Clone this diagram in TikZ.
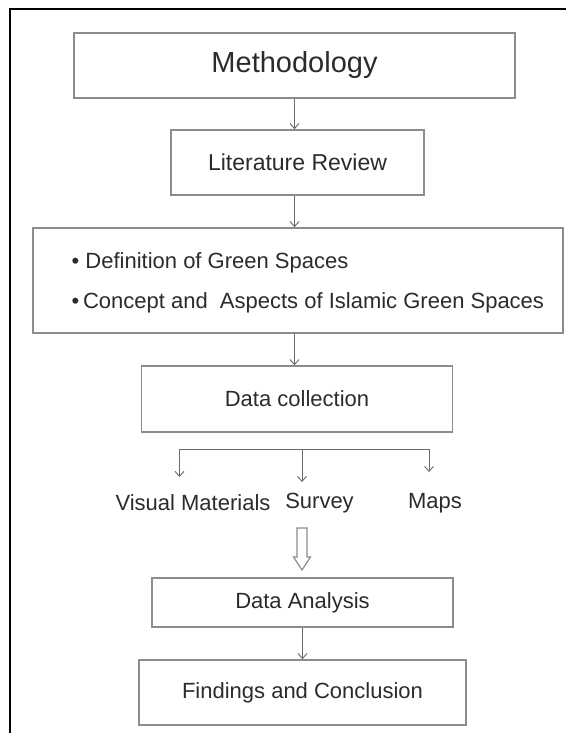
\documentclass[tikz,border=0pt]{standalone}
\usepackage{fontspec}
\setmainfont{Liberation Sans}
\usetikzlibrary{arrows.meta}
\definecolor{boxline}{HTML}{8C8C8C}
\definecolor{arrowline}{HTML}{6A6A6A}
\definecolor{txt}{HTML}{2B2B2B}
\begin{document}
\begin{tikzpicture}[x=1pt, y=-1pt,
        stage/.style={draw=boxline, line width=1.6pt, text=txt, inner sep=0pt,
            font=\fontsize{22}{26}\selectfont},
        item/.style={text=txt, inner sep=0pt, font=\fontsize{22}{26}\selectfont},
        link/.style={draw=arrowline, line width=0.9pt},
        flow/.style={link, -{Straight Barb[length=5pt, width=9pt]}},
        hollow/.style={draw=boxline, line width=1.2pt, fill=white}]
    \useasboundingbox (0, 0) rectangle (566, 733);
    \draw[line width=1.3pt] (10, 733) -- (10, 9) -- (566, 9);

    \node[stage, minimum width=441pt, minimum height=65pt,
        font=\fontsize{29}{34}\selectfont] (method) at (294.5, 65.5) {Methodology};
    \node[stage, minimum width=253pt, minimum height=65pt,
        font=\fontsize{23}{27}\selectfont] (review) at (297.5, 162.5) {Literature Review};
    \node[stage, minimum width=530pt, minimum height=105pt] (aspects) at (297.75, 280.5) {};
    \node[item, anchor=west, align=left, font=\fontsize{22}{40}\selectfont] (aspectlist)
        at ([shift={(39.5, 2.5)}]aspects.west)
        {\textbullet\ Definition of Green Spaces\\
         \textbullet\,Concept and\ \ Aspects of Islamic Green Spaces};
    \node[stage, minimum width=311pt, minimum height=66pt] (collect) at (297, 399) {Data collection};

    % branches
    \coordinate (split) at (302, 449);
    \coordinate (visualtip) at (179.5, 477);
    \coordinate (surveytip) at (302, 482);
    \coordinate (mapstip) at (429, 472);
    \node[item] (visual) at (193, 503) {Visual Materials};
    \node[item] (survey) at (319.5, 503) {Survey};
    \node[item] (maps) at (435, 503) {Maps};

    \node[stage, minimum width=301pt, minimum height=49pt] (analysis) at (302.5, 602.5) {Data Analysis};
    \node[stage, minimum width=327pt, minimum height=65pt] (findings) at (302.5, 692.5) {Findings and Conclusion};

    \draw[flow] (method.south) -- (method.south |- review.north);
    \draw[flow] (method.south |- review.south) -- (method.south |- aspects.north);
    \draw[flow] (method.south |- aspects.south) -- (method.south |- collect.north);
    \draw[link] (visualtip |- split) -- (mapstip |- split);
    \draw[flow] (visualtip |- split) -- (visualtip);
    \draw[flow] (split) -- (surveytip);
    \draw[flow] (mapstip |- split) -- (mapstip);

    % hollow arrow
    \coordinate (hollowtop) at (302, 528);
    \coordinate (hollowtip) at (302, 570);
    \draw[hollow] (hollowtop) ++(-5, 0) -- ++(0, 29) -- ++(-3.5, 0) -- (hollowtip)
        -- ++(8.5, -13) -- ++(-3.5, 0) -- ++(0, -29) -- cycle;

    \draw[flow] (analysis.south) -- (findings.north);
\end{tikzpicture}
\end{document}
